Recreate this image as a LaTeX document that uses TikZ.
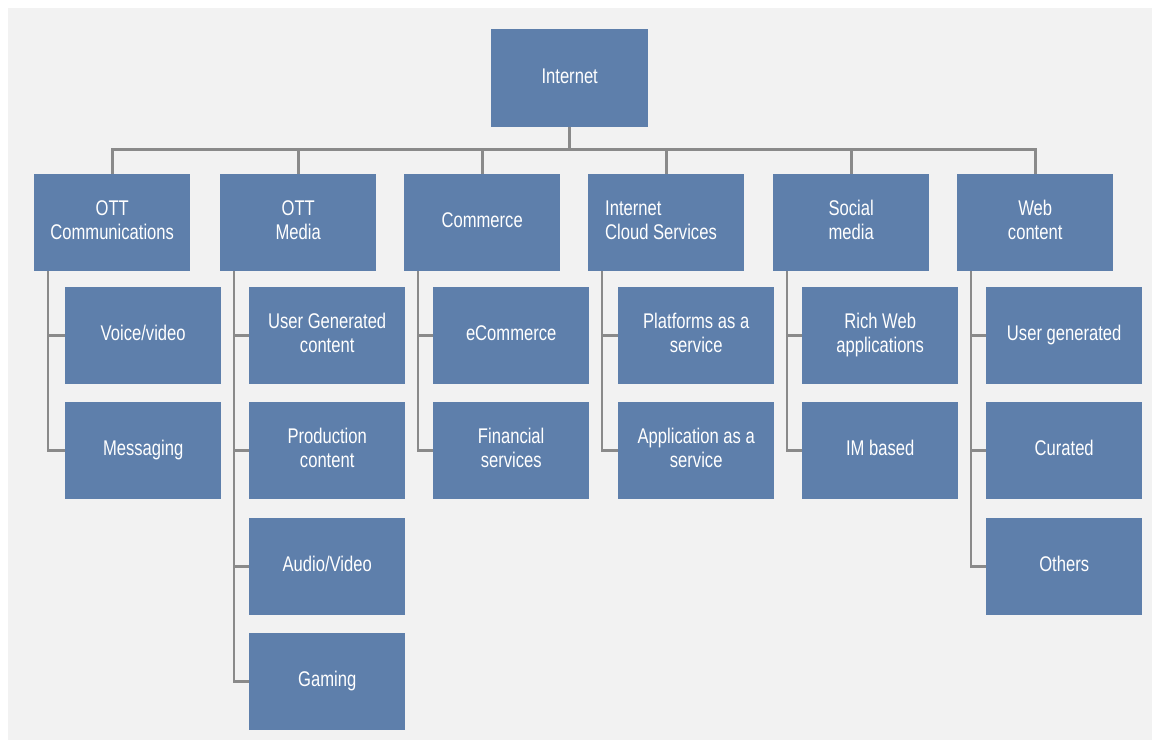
\documentclass[tikz,border=0pt]{standalone}
\usepackage{fontspec}
\usepackage{graphicx}
\setmainfont{Liberation Sans}
\definecolor{boxblue}{RGB}{94,127,171}
\definecolor{linegray}{RGB}{138,138,138}
\definecolor{bggray}{RGB}{242,242,242}
\newcommand\sx[1]{\scalebox{1}[1.28]{\begin{tabular}{@{}c@{}}#1\end{tabular}}}
\newcommand\sxl[1]{\scalebox{1}[1.28]{\begin{tabular}{@{}l@{}}#1\end{tabular}}}
\begin{document}
\begin{tikzpicture}[x=1pt,y=-1pt,
  box/.style={fill=boxblue, draw=none, minimum width=156pt, minimum height=97pt,
    inner sep=0pt, text=white, font=\fontsize{16.6}{19}\selectfont, anchor=north west},
  conn/.style={draw=linegray, line width=2.6pt}]
\fill[white] (0,0) rectangle (1152,751);
\fill[bggray] (8,8) rectangle (1152,740);
\useasboundingbox (0,0) rectangle (1152,751);
% root
\node[box, minimum width=157pt, minimum height=98pt] (top) at (491,29) {\sx{Internet}};
% level 1
\node[box] (c1) at (34,174) {\sx{OTT\\Communications}};
\node[box] (c2) at (220,174) {\sx{OTT\\Media}};
\node[box] (c3) at (404,174) {\sx{Commerce}};
\node[box] (c4) at (588,174) {};
\node[anchor=west, inner sep=0pt, text=white, font=\fontsize{16.6}{19}\selectfont] (c4t) at ([xshift=17pt]c4.west) {\sxl{Internet\\Cloud Services}};
\node[box] (c5) at (773,174) {\sx{Social\\media}};
\node[box] (c6) at (957,174) {\sx{Web\\content}};
% children
\node[box] (c1a) at (65,287) {\sx{Voice/video}};
\node[box] (c1b) at (65,402) {\sx{Messaging}};
\node[box] (c2a) at (249,287) {\sx{User Generated\\content}};
\node[box] (c2b) at (249,402) {\sx{Production\\content}};
\node[box] (c2c) at (249,518) {\sx{Audio/Video}};
\node[box] (c2d) at (249,633) {\sx{Gaming}};
\node[box] (c3a) at (433,287) {\sx{eCommerce}};
\node[box] (c3b) at (433,402) {\sx{Financial\\services}};
\node[box] (c4a) at (618,287) {\sx{Platforms as a\\service}};
\node[box] (c4b) at (618,402) {\sx{Application as a\\service}};
\node[box] (c5a) at (802,287) {\sx{Rich Web\\applications}};
\node[box] (c5b) at (802,402) {\sx{IM based}};
\node[box] (c6a) at (986,287) {\sx{User generated}};
\node[box] (c6b) at (986,402) {\sx{Curated}};
\node[box] (c6c) at (986,518) {\sx{Others}};
% bus
\draw[conn] (top.south) -- ++(0,22) coordinate (bus);
\draw[conn] (c1.north) |- (bus) -| (c6.north);
\foreach \c in {c2,c3,c4,c5} \draw[conn] (\c.north) -- (\c.north |- bus);
% trunks
\draw[conn] ([xshift=14pt]c1.south west) |- (c1b.west);
\draw[conn] (c1a.west) -- ++(-17,0);
\draw[conn] ([xshift=14pt]c2.south west) |- (c2d.west);
\foreach \k in {c2a,c2b,c2c} \draw[conn] (\k.west) -- ++(-15,0);
\draw[conn] ([xshift=14pt]c3.south west) |- (c3b.west);
\draw[conn] (c3a.west) -- ++(-15,0);
\draw[conn] ([xshift=14pt]c4.south west) |- (c4b.west);
\draw[conn] (c4a.west) -- ++(-16,0);
\draw[conn] ([xshift=14pt]c5.south west) |- (c5b.west);
\draw[conn] (c5a.west) -- ++(-15,0);
\draw[conn] ([xshift=14pt]c6.south west) |- (c6c.west);
\foreach \k in {c6a,c6b} \draw[conn] (\k.west) -- ++(-15,0);
\end{tikzpicture}
\end{document}
